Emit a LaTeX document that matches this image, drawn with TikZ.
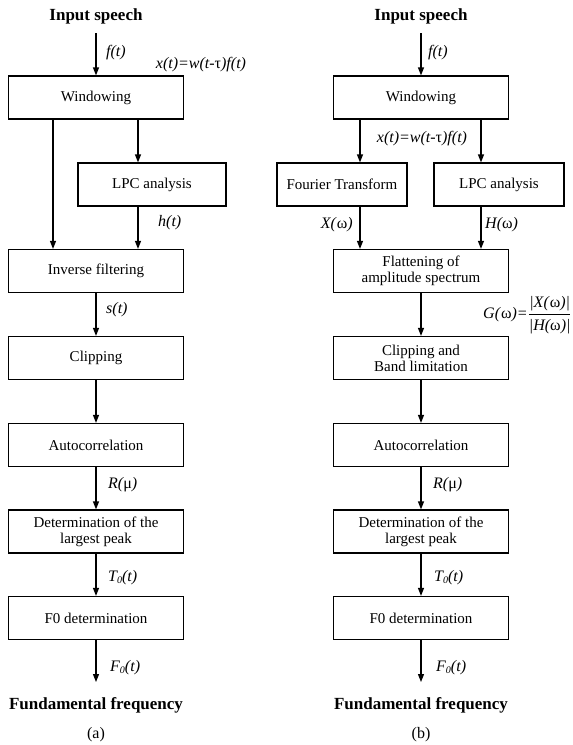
\documentclass[tikz,border=0pt]{standalone}
\usepackage{fontspec}
\setmainfont{Liberation Serif}
\usetikzlibrary{arrows.meta}
% upright Greek letters inside italic labels
\newcommand\grom{{\upshape ω}}
\newcommand\grmu{{\upshape μ}}
\newcommand\grtau{{\upshape τ}}
% small lowered zero for T0, F0
\newcommand\zsub{\raisebox{-0.12em}{\fontsize{10}{10}\selectfont 0}}
\begin{document}
\begin{tikzpicture}[x=1pt,y=-1pt,
  box/.style={draw, line width=1.2pt, minimum height=43pt, inner sep=0pt,
    font=\fontsize{15}{16}\selectfont, align=center},
  wide/.style={box, minimum width=175pt},
  lpcbox/.style={box, minimum width=148pt},
  halfbox/.style={box, minimum width=130pt},
  flow/.style={-{Triangle[width=6pt,length=8pt]}, line width=1.2pt},
  lbl/.style={font=\fontsize{16}{17}\selectfont\itshape, inner sep=0pt},
  title/.style={font=\fontsize{17}{18}\selectfont\bfseries, inner sep=0pt},
  caption/.style={font=\fontsize{16}{17}\selectfont, inner sep=0pt}]
\useasboundingbox (0,0) rectangle (573,745);

% ---------------- (a) ----------------
\node[title] (inA) at (96,16) {Input speech};
\node[wide] (winA) at (96,97.5) {Windowing};
\node[lpcbox] (lpcA) at (152,184.5) {LPC analysis};
\node[wide] (invA) at (96,271) {Inverse filtering};
\node[wide] (clipA) at (96,358) {Clipping};
\node[wide] (autoA) at (96,445) {Autocorrelation};
\node[wide] (detA) at (96,531.5) {Determination of the\\largest peak};
\node[wide] (f0A) at (96,618) {F0 determination};
\node[title] (outA) at (96,705) {Fundamental frequency};
\node[caption] (capA) at (96,735) {(a)};

\coordinate (srcA) at (96,33);
\coordinate (endA) at (96,682);
\coordinate (brLA) at (53,0);
\coordinate (brRA) at (138,0);

\draw[flow] (srcA) -- (srcA |- winA.north);
\draw[flow] (brLA |- winA.south) -- (brLA |- invA.north);
\draw[flow] (brRA |- winA.south) -- (brRA |- lpcA.north);
\draw[flow] (brRA |- lpcA.south) -- (brRA |- invA.north);
\draw[flow] (invA.south) -- (clipA.north);
\draw[flow] (clipA.south) -- (autoA.north);
\draw[flow] (autoA.south) -- (detA.north);
\draw[flow] (detA.south) -- (f0A.north);
\draw[flow] (f0A.south) -- (endA);

\node[lbl, anchor=west] (ftA) at (106,53) {f(t)};
\node[lbl] (xtA) at (201,65) {x(t)=w(t-\grtau)f(t)};
\node[lbl, anchor=west] (htA) at (158,223) {h(t)};
\node[lbl, anchor=west] (stA) at (106,310) {s(t)};
\node[lbl, anchor=west] (rmA) at (108,485) {R(\grmu)};
\node[lbl, anchor=west] (t0A) at (108,578) {T\zsub(t)};
\node[lbl, anchor=west] (f0lA) at (110,668) {F\zsub(t)};

% ---------------- (b) ----------------
\node[title] (inB) at (421,16) {Input speech};
\node[wide] (winB) at (421,97.5) {Windowing};
\node[halfbox] (ftB) at (342,184.5) {Fourier Transform};
\node[halfbox] (lpcB) at (499,184.5) {LPC analysis};
\node[wide] (flatB) at (421,271) {Flattening of\\amplitude spectrum};
\node[wide] (clipB) at (421,358) {Clipping and\\Band limitation};
\node[wide] (autoB) at (421,445) {Autocorrelation};
\node[wide] (detB) at (421,531.5) {Determination of the\\largest peak};
\node[wide] (f0B) at (421,618) {F0 determination};
\node[title] (outB) at (421,705) {Fundamental frequency};
\node[caption] (capB) at (421,735) {(b)};

\coordinate (srcB) at (421,33);
\coordinate (endB) at (421,682);
\coordinate (brLB) at (360,0);
\coordinate (brRB) at (481,0);

\draw[flow] (srcB) -- (srcB |- winB.north);
\draw[flow] (brLB |- winB.south) -- (brLB |- ftB.north);
\draw[flow] (brRB |- winB.south) -- (brRB |- lpcB.north);
\draw[flow] (brLB |- ftB.south) -- (brLB |- flatB.north);
\draw[flow] (brRB |- lpcB.south) -- (brRB |- flatB.north);
\draw[flow] (flatB.south) -- (clipB.north);
\draw[flow] (clipB.south) -- (autoB.north);
\draw[flow] (autoB.south) -- (detB.north);
\draw[flow] (detB.south) -- (f0B.north);
\draw[flow] (f0B.south) -- (endB);

\node[lbl, anchor=west] (fB) at (428,53) {f(t)};
\node[lbl] (xtB) at (422,139) {x(t)=w(t-\grtau)f(t)};
\node[lbl, anchor=east] (xwB) at (353,225) {X(\kern1pt\grom)};
\node[lbl, anchor=west] (hwB) at (485,225) {H(\grom)};
\node[lbl, anchor=west] (gwB) at (483,315)
  {G(\kern1pt\grom)=$\displaystyle\frac{\hbox{|X(\kern1pt\grom)|}}{\hbox{|H(\grom)|}}$};
\node[lbl, anchor=west] (rmB) at (433,485) {R(\grmu)};
\node[lbl, anchor=west] (t0B) at (434,578) {T\zsub(t)};
\node[lbl, anchor=west] (f0lB) at (436,668) {F\zsub(t)};
\end{tikzpicture}
\end{document}
